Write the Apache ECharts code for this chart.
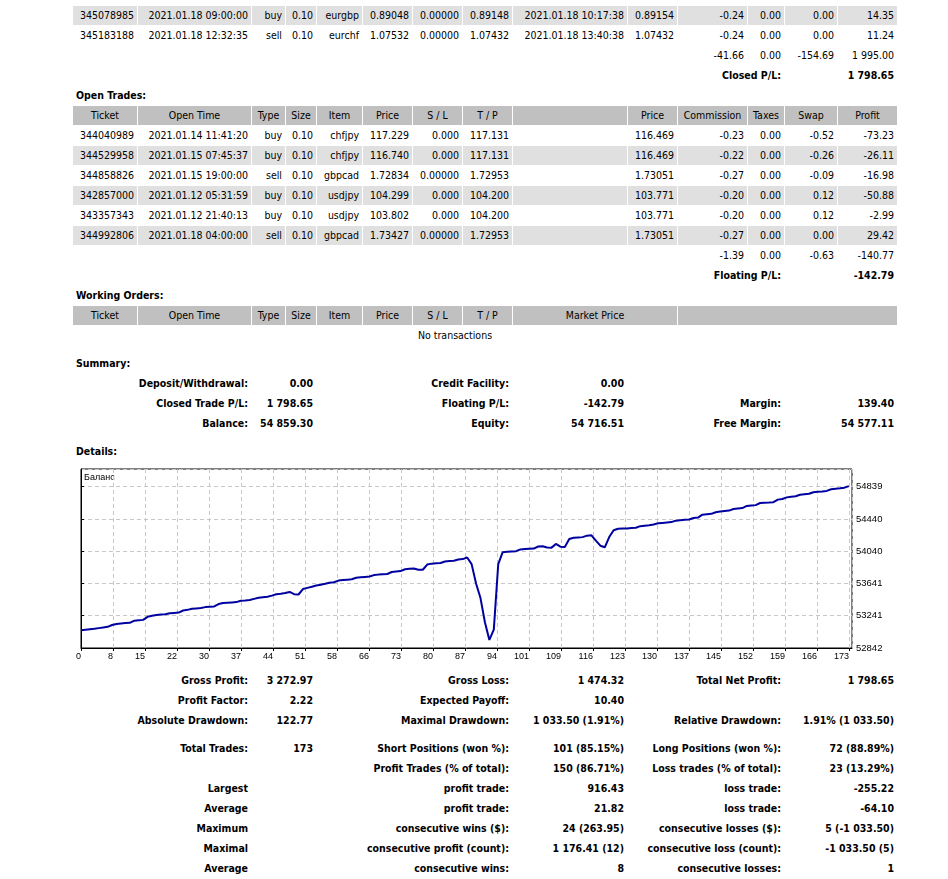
<!DOCTYPE html>
<html>
<head>
<meta charset="utf-8">
<title>Statement</title>
<script src="https://cdn.jsdelivr.net/npm/echarts@6/dist/echarts.min.js"></script>
<style>
  body { margin: 0; background: #fff; font-family: Tahoma, "DejaVu Sans Condensed", "Liberation Sans", sans-serif; font-size: 10.5px; color: #000; }
  table.rep { position: absolute; left: 72px; top: 5px; width: 826px; table-layout: fixed; border-collapse: separate; border-spacing: 1px; }
  table.rep td { height: 19px; line-height: 19px; padding: 0 3px; text-align: right; white-space: nowrap; overflow: visible; }
  tr.g td { background: #e0e0e0; }
  tr.h td { background: #c0c0c0; text-align: center; }
  tr.b td { font-weight: bold; }
  td.t { text-align: left !important; font-weight: bold; }
  tr.sp td { height: 7px !important; line-height: 7px; font-size: 1px; }
  td.chartcell { padding: 0 !important; height: 208px !important; }
  #chart { width: 826px; height: 208px; }
</style>
</head>
<body>
<table class="rep">
<colgroup>
  <col style="width:64px"><col style="width:113px"><col style="width:33px"><col style="width:30px">
  <col style="width:45px"><col style="width:49px"><col style="width:49px"><col style="width:49px">
  <col style="width:114px"><col style="width:49px"><col style="width:69px"><col style="width:36px">
  <col style="width:52px"><col style="width:59px">
</colgroup>
<tr class="g"><td>345078985</td><td>2021.01.18 09:00:00</td><td>buy</td><td>0.10</td><td>eurgbp</td><td>0.89048</td><td>0.00000</td><td>0.89148</td><td>2021.01.18 10:17:38</td><td>0.89154</td><td>-0.24</td><td>0.00</td><td>0.00</td><td>14.35</td></tr>
<tr><td>345183188</td><td>2021.01.18 12:32:35</td><td>sell</td><td>0.10</td><td>eurchf</td><td>1.07532</td><td>0.00000</td><td>1.07432</td><td>2021.01.18 13:40:38</td><td>1.07432</td><td>-0.24</td><td>0.00</td><td>0.00</td><td>11.24</td></tr>
<tr><td colspan="10"></td><td>-41.66</td><td>0.00</td><td>-154.69</td><td>1 995.00</td></tr>
<tr class="b"><td colspan="9"></td><td colspan="3">Closed P/L:</td><td colspan="2">1 798.65</td></tr>
<tr><td class="t" colspan="14">Open Trades:</td></tr>
<tr class="h"><td>Ticket</td><td>Open Time</td><td>Type</td><td>Size</td><td>Item</td><td>Price</td><td>S / L</td><td>T / P</td><td></td><td>Price</td><td>Commission</td><td>Taxes</td><td>Swap</td><td>Profit</td></tr>
<tr><td>344040989</td><td>2021.01.14 11:41:20</td><td>buy</td><td>0.10</td><td>chfjpy</td><td>117.229</td><td>0.000</td><td>117.131</td><td></td><td>116.469</td><td>-0.23</td><td>0.00</td><td>-0.52</td><td>-73.23</td></tr>
<tr class="g"><td>344529958</td><td>2021.01.15 07:45:37</td><td>buy</td><td>0.10</td><td>chfjpy</td><td>116.740</td><td>0.000</td><td>117.131</td><td></td><td>116.469</td><td>-0.22</td><td>0.00</td><td>-0.26</td><td>-26.11</td></tr>
<tr><td>344858826</td><td>2021.01.15 19:00:00</td><td>sell</td><td>0.10</td><td>gbpcad</td><td>1.72834</td><td>0.00000</td><td>1.72953</td><td></td><td>1.73051</td><td>-0.27</td><td>0.00</td><td>-0.09</td><td>-16.98</td></tr>
<tr class="g"><td>342857000</td><td>2021.01.12 05:31:59</td><td>buy</td><td>0.10</td><td>usdjpy</td><td>104.299</td><td>0.000</td><td>104.200</td><td></td><td>103.771</td><td>-0.20</td><td>0.00</td><td>0.12</td><td>-50.88</td></tr>
<tr><td>343357343</td><td>2021.01.12 21:40:13</td><td>buy</td><td>0.10</td><td>usdjpy</td><td>103.802</td><td>0.000</td><td>104.200</td><td></td><td>103.771</td><td>-0.20</td><td>0.00</td><td>0.12</td><td>-2.99</td></tr>
<tr class="g"><td>344992806</td><td>2021.01.18 04:00:00</td><td>sell</td><td>0.10</td><td>gbpcad</td><td>1.73427</td><td>0.00000</td><td>1.72953</td><td></td><td>1.73051</td><td>-0.27</td><td>0.00</td><td>0.00</td><td>29.42</td></tr>
<tr><td colspan="10"></td><td>-1.39</td><td>0.00</td><td>-0.63</td><td>-140.77</td></tr>
<tr class="b"><td colspan="9"></td><td colspan="3">Floating P/L:</td><td colspan="2">-142.79</td></tr>
<tr><td class="t" colspan="14">Working Orders:</td></tr>
<tr class="h"><td>Ticket</td><td>Open Time</td><td>Type</td><td>Size</td><td>Item</td><td>Price</td><td>S / L</td><td>T / P</td><td colspan="2">Market Price</td><td colspan="4"></td></tr>
<tr><td colspan="13" style="text-align:center">No transactions</td><td></td></tr>
<tr class="sp"><td colspan="14"></td></tr>
<tr><td class="t" colspan="14">Summary:</td></tr>
<tr class="b"><td colspan="2">Deposit/Withdrawal:</td><td colspan="2">0.00</td><td colspan="4">Credit Facility:</td><td>0.00</td><td colspan="3"></td><td colspan="2"></td></tr>
<tr class="b"><td colspan="2">Closed Trade P/L:</td><td colspan="2">1 798.65</td><td colspan="4">Floating P/L:</td><td>-142.79</td><td colspan="3">Margin:</td><td colspan="2">139.40</td></tr>
<tr class="b"><td colspan="2">Balance:</td><td colspan="2">54 859.30</td><td colspan="4">Equity:</td><td>54 716.51</td><td colspan="3">Free Margin:</td><td colspan="2">54 577.11</td></tr>
<tr class="sp"><td colspan="14"></td></tr>
<tr><td class="t" colspan="14">Details:</td></tr>
<tr><td class="chartcell" colspan="14"><div id="chart"></div></td></tr>
<tr class="b"><td colspan="2">Gross Profit:</td><td colspan="2">3 272.97</td><td colspan="4">Gross Loss:</td><td>1 474.32</td><td colspan="3">Total Net Profit:</td><td colspan="2">1 798.65</td></tr>
<tr class="b"><td colspan="2">Profit Factor:</td><td colspan="2">2.22</td><td colspan="4">Expected Payoff:</td><td>10.40</td><td colspan="3"></td><td colspan="2"></td></tr>
<tr class="b"><td colspan="2">Absolute Drawdown:</td><td colspan="2">122.77</td><td colspan="4">Maximal Drawdown:</td><td>1 033.50 (1.91%)</td><td colspan="3">Relative Drawdown:</td><td colspan="2">1.91% (1 033.50)</td></tr>
<tr class="sp"><td colspan="14"></td></tr>
<tr class="b"><td colspan="2">Total Trades:</td><td colspan="2">173</td><td colspan="4">Short Positions (won %):</td><td>101 (85.15%)</td><td colspan="3">Long Positions (won %):</td><td colspan="2">72 (88.89%)</td></tr>
<tr class="b"><td colspan="2"></td><td colspan="2"></td><td colspan="4">Profit Trades (% of total):</td><td>150 (86.71%)</td><td colspan="3">Loss trades (% of total):</td><td colspan="2">23 (13.29%)</td></tr>
<tr class="b"><td colspan="2">Largest</td><td colspan="2"></td><td colspan="4">profit trade:</td><td>916.43</td><td colspan="3">loss trade:</td><td colspan="2">-255.22</td></tr>
<tr class="b"><td colspan="2">Average</td><td colspan="2"></td><td colspan="4">profit trade:</td><td>21.82</td><td colspan="3">loss trade:</td><td colspan="2">-64.10</td></tr>
<tr class="b"><td colspan="2">Maximum</td><td colspan="2"></td><td colspan="4">consecutive wins ($):</td><td>24 (263.95)</td><td colspan="3">consecutive losses ($):</td><td colspan="2">5 (-1 033.50)</td></tr>
<tr class="b"><td colspan="2">Maximal</td><td colspan="2"></td><td colspan="4">consecutive profit (count):</td><td>1 176.41 (12)</td><td colspan="3">consecutive loss (count):</td><td colspan="2">-1 033.50 (5)</td></tr>
<tr class="b"><td colspan="2">Average</td><td colspan="2"></td><td colspan="4">consecutive wins:</td><td>8</td><td colspan="3">consecutive losses:</td><td colspan="2">1</td></tr>
</table>

<script type="text/javascript">
    // balance after each closed trade (trade number = index)
    var balance = [
        53061, 53068, 53074, 53080, 53088, 53096, 53104, 53126, 53138, 53146,
        53150, 53154, 53180, 53186, 53190, 53228, 53240, 53250, 53256, 53260,
        53272, 53276, 53280, 53306, 53314, 53328, 53332, 53336, 53348, 53352,
        53356, 53386, 53398, 53402, 53406, 53410, 53426, 53430, 53436, 53450,
        53464, 53470, 53476, 53490, 53508, 53514, 53522, 53536, 53508, 53504,
        53572, 53586, 53600, 53616, 53626, 53636, 53650, 53656, 53676, 53684,
        53688, 53692, 53712, 53718, 53722, 53726, 53744, 53750, 53754, 53758,
        53782, 53788, 53794, 53816, 53822, 53826, 53810, 53810, 53874, 53886,
        53890, 53894, 53912, 53918, 53922, 53936, 53942, 53962, 53880, 53640,
        53460, 53160, 52942, 53070, 53880, 54028, 54032, 54036, 54040, 54062,
        54066, 54070, 54072, 54098, 54102, 54086, 54084, 54130, 54096, 54092,
        54190, 54206, 54210, 54214, 54232, 54236, 54170, 54108, 54088, 54215,
        54300, 54318, 54320, 54322, 54326, 54330, 54350, 54356, 54362, 54370,
        54385, 54390, 54395, 54400, 54418, 54424, 54428, 54432, 54450, 54456,
        54492, 54498, 54502, 54522, 54530, 54536, 54542, 54562, 54568, 54574,
        54600, 54606, 54610, 54636, 54640, 54642, 54646, 54678, 54686, 54706,
        54714, 54720, 54738, 54744, 54750, 54770, 54776, 54780, 54786, 54806,
        54812, 54818, 54826, 54845
    ];
    var xTicks = [0, 8, 15, 22, 30, 37, 44, 51, 58, 66, 73, 80, 87, 94, 101, 109, 116, 123, 130, 137, 145, 152, 159, 166, 173];
    var yTicks = [52842, 53241, 53641, 54040, 54440, 54839];

    var xStep = 173 / 24;
    var yMin = 52842, yStep = 399.4;

    var option = {
        backgroundColor: '#ffffff',
        animation: false,
        grid: {
            left: 8, right: 47, top: 7, bottom: 22,
            show: true,
            borderColor: '#000000',
            borderWidth: 1
        },
        graphic: [{
            type: 'text', left: 11, top: 11,
            style: { text: 'Баланс', fill: '#000', font: '9px "Liberation Sans", sans-serif' }
        }],
        xAxis: {
            type: 'value',
            min: 0, max: 173.7, interval: xStep,
            axisLine: { lineStyle: { color: '#000', width: 1 } },
            axisTick: { show: true, length: 3, lineStyle: { color: '#000' } },
            axisLabel: {
                color: '#000', fontSize: 9, fontFamily: 'Liberation Sans', margin: 4,
                align: 'right', showMaxLabel: false,
                formatter: function (v) {
                    var k = Math.round(v / xStep);
                    return Math.abs(v - k * xStep) < 0.2 && xTicks[k] != null ? String(xTicks[k]) : '';
                }
            },
            splitLine: { show: true, lineStyle: { color: '#c8c8c8', type: [4, 3] } }
        },
        yAxis: {
            type: 'value', position: 'right',
            min: yMin, max: 55057, interval: yStep,
            axisLine: { show: true, lineStyle: { color: '#000', width: 1 } },
            axisTick: { show: true, length: 3, lineStyle: { color: '#000' } },
            axisLabel: {
                color: '#000', fontSize: 9.5, fontFamily: 'Liberation Sans', margin: 4,
                showMaxLabel: false,
                formatter: function (v) {
                    var k = Math.round((v - yMin) / yStep);
                    return yTicks[k] != null ? String(yTicks[k]) : '';
                }
            },
            splitLine: { show: true, lineStyle: { color: '#c8c8c8', type: [4, 3] } }
        },
        series: [{
            name: 'Баланс',
            type: 'line',
            showSymbol: false,
            lineStyle: { color: '#0000a0', width: 2 },
            data: balance.map(function (v, i) { return [i, v]; })
        }]
    };

    var myChart = echarts.init(document.getElementById('chart'));
    myChart.setOption(option);
</script>
</body>
</html>
